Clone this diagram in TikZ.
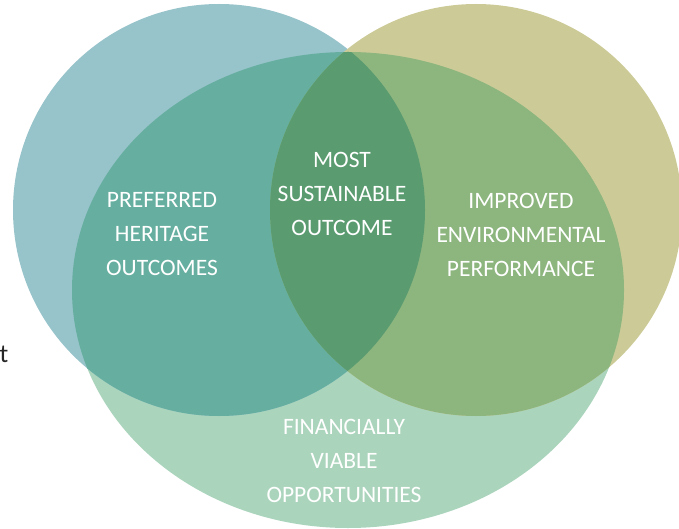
\documentclass[tikz,border=0pt]{standalone}
\usepackage{fontspec}
\setmainfont{Carlito}
\definecolor{cblue}{HTML}{97C3CA}
\definecolor{colive}{HTML}{CCCB98}
\definecolor{cgreen}{HTML}{ABD4BC}
\definecolor{cteal}{HTML}{66AFA0}
\definecolor{cgol}{HTML}{8DB57E}
\definecolor{clens}{HTML}{5A9B70}
\definecolor{ctext}{HTML}{262626}
\tikzset{
  lbl/.style={text=white, align=center, font=\fontsize{23.5}{33.8}\selectfont, inner sep=0pt},
}
\begin{document}
\begin{tikzpicture}[x=1pt,y=-1pt]
\useasboundingbox (0,0) rectangle (679,529);
% base sets
\fill[cgreen] (348,290) ellipse [x radius=276, y radius=238];
\fill[cblue] (219,210) circle [radius=206];
\fill[colive] (476,210) circle [radius=206];
% intersections inside the green set
\begin{scope}
  \clip (348,290) ellipse [x radius=276, y radius=238];
  \fill[cteal] (219,210) circle [radius=206];
  \fill[cgol] (476,210) circle [radius=206];
  \clip (219,210) circle [radius=206];
  \fill[clens] (476,210) circle [radius=206];
\end{scope}
% labels
\node[lbl] (heritage) at (162,234) {PREFERRED\\HERITAGE\\OUTCOMES};
\node[lbl] (most) at (342,194) {MOST\\SUSTAINABLE\\OUTCOME};
\node[lbl] (env) at (521,235) {IMPROVED\\ENVIRONMENTAL\\PERFORMANCE};
\node[lbl] (fin) at (344,461) {FINANCIALLY\\VIABLE\\OPPORTUNITIES};
\node[text=ctext, font=\fontsize{26}{30}\selectfont, inner sep=0pt, anchor=base west] (t) at (-0.5,362) {t};
\end{tikzpicture}
\end{document}
